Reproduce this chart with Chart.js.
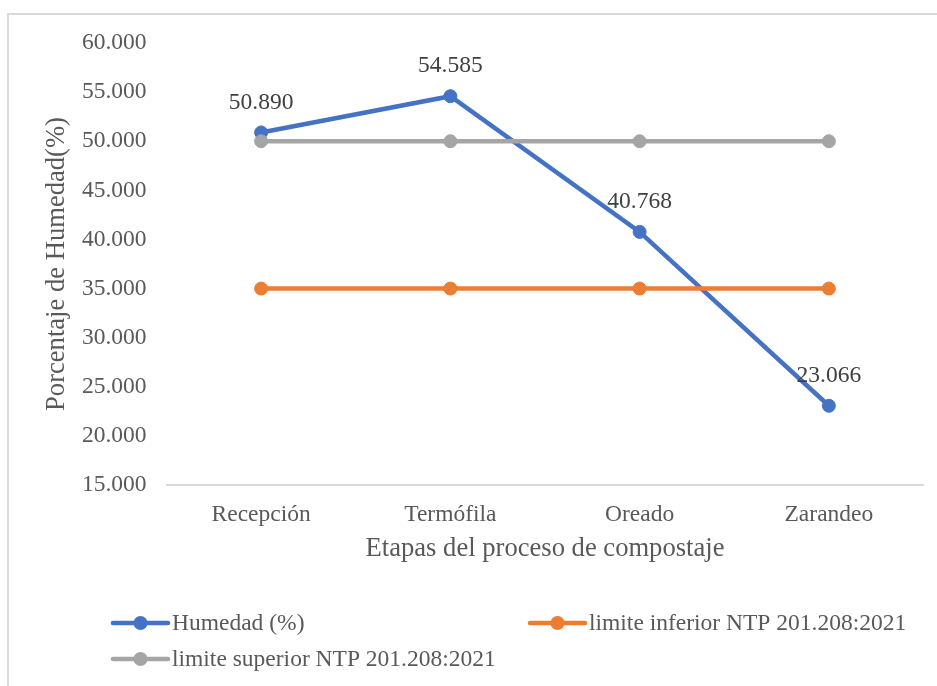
<!DOCTYPE html>
<html>
<head>
<meta charset="utf-8">
<script src="https://cdn.jsdelivr.net/npm/chart.js@4/dist/chart.umd.min.js"></script>
<style>
  html, body { margin: 0; padding: 0; background: #ffffff; }
  #c { display: block; }
</style>
</head>
<body>
<canvas id="c" width="937" height="686"></canvas>
<script>
const categories = ['Recepción', 'Termófila', 'Oreado', 'Zarandeo'];
const humedad = [50.890, 54.585, 40.768, 23.066];
const limiteInferior = [35, 35, 35, 35];
const limiteSuperior = [50, 50, 50, 50];
const seriesNames = ['Humedad (%)', 'limite inferior NTP 201.208:2021', 'limite superior NTP 201.208:2021'];
const yTitle = 'Porcentaje de Humedad(%)';
const xTitle = 'Etapas del proceso de compostaje';

const FONT = 'Liberation Serif, Times New Roman, serif';
const FS = 23.5;
const FT = 26.6;
const TXT = '#595959';
const COLORS = ['#4472C4', '#ED7D31', '#A5A5A5'];

const borderPlugin = {
  id: 'frame',
  beforeDraw(chart) {
    const ctx = chart.ctx;
    ctx.save();
    ctx.fillStyle = '#ffffff';
    ctx.fillRect(0, 0, chart.width, chart.height);
    ctx.strokeStyle = '#d9d9d9';
    ctx.lineWidth = 2;
    ctx.beginPath();
    ctx.moveTo(8, 686);
    ctx.lineTo(8, 14);
    ctx.lineTo(937, 14);
    ctx.stroke();
    ctx.restore();
  }
};

const labelPlugin = {
  id: 'valueLabels',
  afterDatasetsDraw(chart) {
    const meta = chart.getDatasetMeta(0);
    const ctx = chart.ctx;
    ctx.save();
    ctx.font = FS + 'px ' + FONT;
    ctx.fillStyle = '#404040';
    ctx.textAlign = 'center';
    ctx.textBaseline = 'middle';
    meta.data.forEach((pt, i) => {
      ctx.fillText(humedad[i].toFixed(3), pt.x, pt.y - 30);
    });
    ctx.restore();
  }
};

const legendPlugin = {
  id: 'customLegend',
  afterDraw(chart) {
    const ctx = chart.ctx;
    const items = [
      { x: 113, y: 623, i: 0 },
      { x: 530, y: 623, i: 1 },
      { x: 113, y: 659, i: 2 }
    ];
    ctx.save();
    items.forEach(it => {
      const c = COLORS[it.i];
      ctx.strokeStyle = c;
      ctx.lineWidth = 4.5;
      ctx.lineCap = 'round';
      ctx.beginPath();
      ctx.moveTo(it.x, it.y);
      ctx.lineTo(it.x + 55, it.y);
      ctx.stroke();
      ctx.fillStyle = c;
      ctx.beginPath();
      ctx.arc(it.x + 27.5, it.y, 7, 0, Math.PI * 2);
      ctx.fill();
      ctx.fillStyle = TXT;
      ctx.font = FS + 'px ' + FONT;
      ctx.textAlign = 'left';
      ctx.textBaseline = 'middle';
      ctx.fillText(seriesNames[it.i], it.x + 59, it.y + 1);
    });
    ctx.restore();
  }
};

const mk = (label, data, color, order) => ({
  label, data,
  borderColor: color,
  backgroundColor: color,
  borderWidth: 4.5,
  pointRadius: 6.5,
  pointBorderWidth: 1,
  pointBackgroundColor: color,
  pointBorderColor: color,
  pointHoverRadius: 6.5,
  tension: 0,
  order
});

new Chart(document.getElementById('c'), {
  type: 'line',
  data: {
    labels: categories,
    datasets: [
      mk(seriesNames[0], humedad, COLORS[0], 3),
      mk(seriesNames[1], limiteInferior, COLORS[1], 2),
      mk(seriesNames[2], limiteSuperior, COLORS[2], 1)
    ]
  },
  options: {
    responsive: false,
    animation: false,
    layout: { padding: { left: 0, right: 13.5, top: 43, bottom: 121 } },
    plugins: {
      legend: { display: false },
      tooltip: { enabled: false }
    },
    scales: {
      x: {
        offset: true,
        grid: { display: false, drawTicks: false },
        border: { display: true, color: '#d9d9d9', width: 2 },
        ticks: { color: TXT, font: { family: FONT, size: FS }, padding: 16, maxRotation: 0 },
        title: { display: true, text: xTitle, color: TXT, font: { family: FONT, size: FT }, padding: { top: 0, bottom: 0 } },
        afterFit(s) { s.height = 80; }
      },
      y: {
        min: 15,
        max: 60,
        ticks: {
          stepSize: 5,
          color: TXT,
          font: { family: FONT, size: FS },
          padding: 20,
          callback: v => Number(v).toFixed(3)
        },
        grid: { display: false, drawTicks: false },
        border: { display: false },
        title: { display: true, text: yTitle, color: TXT, font: { family: FONT, size: FT }, padding: { top: 41, bottom: 0 } },
        afterFit(s) { s.width = 166.5; }
      }
    }
  },
  plugins: [borderPlugin, labelPlugin, legendPlugin]
});
</script>
</body>
</html>
